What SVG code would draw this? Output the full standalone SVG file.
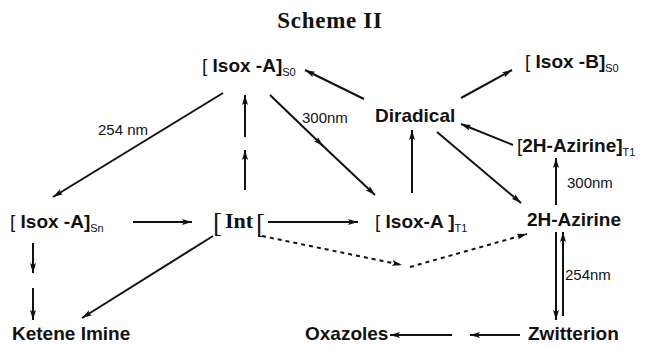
<svg xmlns="http://www.w3.org/2000/svg" width="651" height="348" viewBox="0 0 651 348">
<style>
.lbl{font-family:"Liberation Sans",Arial,sans-serif;font-weight:bold;font-size:19px;fill:#111}
.br{font-weight:normal}
.sub{font-size:11px;font-weight:normal}
.nm{font-family:"Liberation Sans",Arial,sans-serif;font-size:15px;fill:#111}
.ser{font-family:"Liberation Serif","Times New Roman",serif;font-weight:bold;fill:#111}
.sbr{font-family:"Liberation Serif","Times New Roman",serif;font-weight:normal;font-size:27px;fill:#111}
.ln{stroke:#111;stroke-width:2;fill:none}
.dash{stroke:#111;stroke-width:2;fill:none;stroke-dasharray:4 4}
</style>
<defs>
<marker id="ah" viewBox="0 0 10 6" refX="10" refY="3" markerWidth="10" markerHeight="6" markerUnits="userSpaceOnUse" orient="auto">
<path d="M0,0 L10,3 L0,6 L2,3 z" fill="#111"/>
</marker>
</defs>
<text class="ser" x="330" y="28" font-size="23" text-anchor="middle" letter-spacing="0.7">Scheme II</text>

<g id="isoxA_S0"><text class="lbl" x="202" y="72"><tspan class="br">[</tspan> Isox -A]<tspan class="sub" dy="4">S0</tspan></text></g>
<g id="isoxB_S0"><text class="lbl" x="525" y="68"><tspan class="br">[</tspan> Isox -B]<tspan class="sub" dy="4">S0</tspan></text></g>
<g id="diradical"><text class="lbl" x="375" y="122" font-size="20">Diradical</text></g>
<g id="azirine_T1"><text class="lbl" x="517" y="152"><tspan class="br">[</tspan>2H-Azirine]<tspan class="sub" dy="4">T1</tspan></text></g>
<g id="isoxA_Sn"><text class="lbl" x="10" y="228"><tspan class="br">[</tspan> Isox -A]<tspan class="sub" dy="4">Sn</tspan></text></g>
<g id="int">
<text class="sbr" x="213" y="232">[</text>
<text class="ser" x="225" y="228" font-size="22">Int</text>
<text class="sbr" x="256" y="233">[</text>
</g>
<g id="isoxA_T1"><text class="lbl" x="375" y="228"><tspan class="br">[</tspan> Isox-A ]<tspan class="sub" dy="4">T1</tspan></text></g>
<g id="azirine"><text class="lbl" x="527" y="226" font-size="20">2H-Azirine</text></g>
<g id="ketene"><text class="lbl" x="12" y="340" font-size="20">Ketene Imine</text></g>
<g id="oxazoles"><text class="lbl" x="305" y="340" font-size="20">Oxazoles</text></g>
<g id="zwitterion"><text class="lbl" x="528" y="340" font-size="20">Zwitterion</text></g>

<g id="labels">
<text class="nm" x="98" y="135">254 nm</text>
<text class="nm" x="302" y="123">300nm</text>
<text class="nm" x="567" y="188">300nm</text>
<text class="nm" x="565" y="280">254nm</text>
</g>

<g id="connectors">
<line class="ln" x1="364" y1="99" x2="305" y2="70" marker-end="url(#ah)"/>
<line class="ln" x1="461" y1="98" x2="512" y2="70" marker-end="url(#ah)"/>
<line class="ln" x1="513" y1="145" x2="461" y2="124" marker-end="url(#ah)"/>
<line class="ln" x1="223" y1="93" x2="53" y2="197" marker-end="url(#ah)"/>
<line class="ln" x1="245" y1="137" x2="245" y2="95" marker-end="url(#ah)"/>
<line class="ln" x1="245" y1="190" x2="245" y2="150" marker-end="url(#ah)"/>
<line class="ln" x1="270" y1="95" x2="323" y2="146" marker-end="url(#ah)"/>
<line class="ln" x1="322" y1="145" x2="375" y2="195" marker-end="url(#ah)"/>
<line class="ln" x1="412" y1="193" x2="412" y2="130" marker-end="url(#ah)"/>
<line class="ln" x1="437" y1="132" x2="521" y2="203" marker-end="url(#ah)"/>
<line class="ln" x1="556" y1="205" x2="556" y2="158" marker-end="url(#ah)"/>
<line class="ln" x1="133" y1="222" x2="192" y2="222" marker-end="url(#ah)"/>
<line class="ln" x1="268" y1="222" x2="358" y2="222" marker-end="url(#ah)"/>
<path class="dash" d="M262,236 L402,265" marker-end="url(#ah)"/>
<path class="dash" d="M410,267 L527,234" marker-end="url(#ah)"/>
<line class="ln" x1="213" y1="236" x2="82" y2="318" marker-end="url(#ah)"/>
<line class="ln" x1="33" y1="243" x2="33" y2="273" marker-end="url(#ah)"/>
<line class="ln" x1="33" y1="288" x2="33" y2="320" marker-end="url(#ah)"/>
<line class="ln" x1="556" y1="232" x2="556" y2="320" marker-end="url(#ah)"/>
<line class="ln" x1="563" y1="316" x2="563" y2="232" marker-end="url(#ah)"/>
<line class="ln" x1="520" y1="335" x2="470" y2="335" marker-end="url(#ah)"/>
<line class="ln" x1="452" y1="335" x2="390" y2="335" marker-end="url(#ah)"/>
</g>
</svg>
